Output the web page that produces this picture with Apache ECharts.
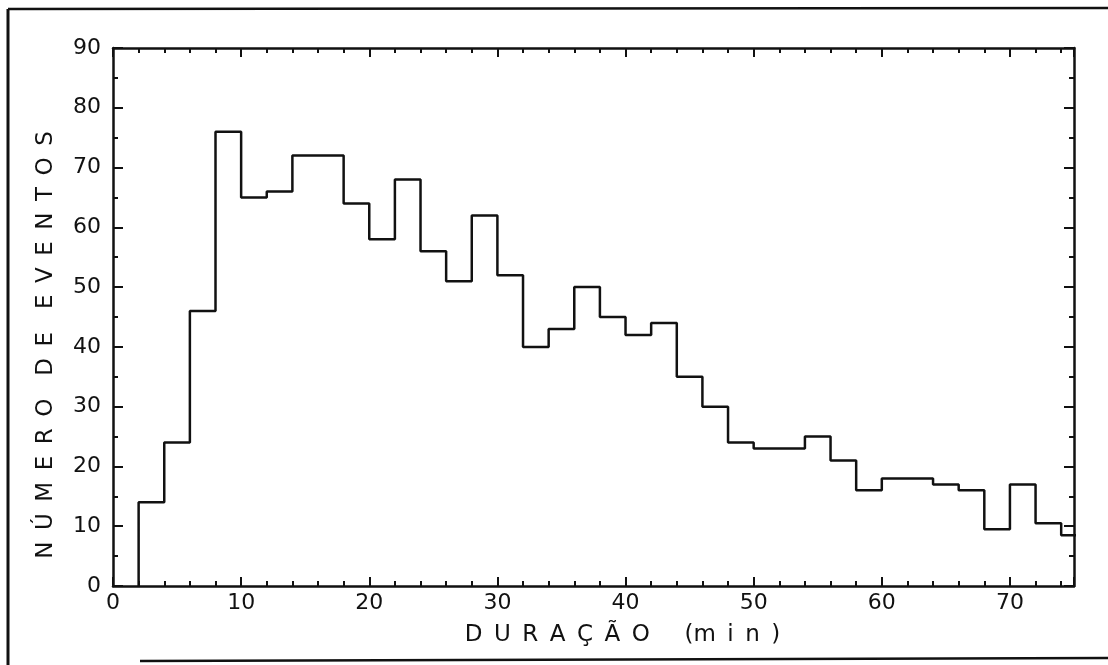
<!DOCTYPE html>
<html>
<head>
<meta charset="utf-8">
<script src="https://cdn.jsdelivr.net/npm/echarts@6/dist/echarts.min.js"></script>
<style>
  html, body { margin: 0; padding: 0; background: #fff; }
  #chart { width: 1108px; height: 665px; }
</style>
</head>
<body>
<div id="chart"></div>
<script>
// left edge of each 2-minute bin (min)
var binLeft = [2, 4, 6, 8, 10, 12, 14, 16, 18, 20, 22, 24, 26, 28, 30, 32, 34, 36, 38,
  40, 42, 44, 46, 48, 50, 52, 54, 56, 58, 60, 62, 64, 66, 68, 70, 72, 74];
var binRightEnd = 76;
// number of events per bin
var counts = [14, 24, 46, 76, 65, 66, 72, 72, 64, 58, 68, 56, 51, 62, 52, 40, 43, 50, 45,
  42, 44, 35, 30, 24, 23, 23, 25, 21, 16, 18, 18, 17, 16, 9.5, 17, 10.5, 8.5];

var xTicks = [0, 10, 20, 30, 40, 50, 60, 70];
var yTicks = [0, 10, 20, 30, 40, 50, 60, 70, 80, 90];

// step outline: start at the baseline, then each bin's top
var steps = [[binLeft[0], 0]];
for (var i = 0; i < binLeft.length; i++) {
  steps.push([binLeft[i], counts[i]]);
}
steps.push([binRightEnd, counts[counts.length - 1]]);

var ink = '#111';
var font = 'DejaVu Sans';
var sp = '\u2002';   // en space, spreads the axis titles like the original lettering

function spread(word) { return word.split('').join(sp); }

var yTitle = spread('NÚMERO') + sp + sp + spread('DE') + sp + sp + spread('EVENTOS');
var xTitle = spread('DURAÇÃO') + sp + sp + sp + '(' + spread('min') + sp + ')';

function xAx(pos, showLabels) {
  return {
    type: 'value',
    position: pos,
    min: xTicks[0],
    max: 75,
    interval: 10,
    axisLine: { show: true, onZero: false, lineStyle: { color: ink, width: 2.5 } },
    axisTick: { show: true, inside: true, length: 9, lineStyle: { color: ink, width: 2 } },
    minorTick: { show: true, splitNumber: 5, length: 5, lineStyle: { color: ink, width: 2 } },
    axisLabel: {
      show: showLabels, color: ink, fontFamily: font, fontSize: 22, margin: 6,
      showMaxLabel: false,
      formatter: function (v) { return xTicks.indexOf(v) >= 0 ? String(v) : ''; }
    },
    splitLine: { show: false },
    name: showLabels ? xTitle : '',
    nameLocation: 'middle',
    nameGap: 38,
    nameTextStyle: { color: ink, fontFamily: font, fontSize: 23, padding: [0, 0, 0, 58] }
  };
}

function yAx(pos, showLabels) {
  return {
    type: 'value',
    position: pos,
    min: yTicks[0],
    max: yTicks[yTicks.length - 1],
    interval: 10,
    axisLine: { show: true, onZero: false, lineStyle: { color: ink, width: 2.5 } },
    axisTick: { show: true, inside: true, length: 10, lineStyle: { color: ink, width: 2 } },
    minorTick: { show: true, splitNumber: 2, length: 5, lineStyle: { color: ink, width: 2 } },
    axisLabel: { show: showLabels, color: ink, fontFamily: font, fontSize: 22, margin: 12 },
    splitLine: { show: false }
  };
}

var myChart = echarts.init(document.getElementById('chart'));
myChart.setOption({
  animation: false,
  backgroundColor: '#fff',
  grid: { left: 113, right: 34, top: 48, bottom: 79, containLabel: false },
  xAxis: [xAx('bottom', true), xAx('top', false)],
  yAxis: [yAx('left', true), yAx('right', false)],
  graphic: [
    { type: 'line', shape: { x1: 8, y1: 9, x2: 8, y2: 665 }, style: { stroke: ink, lineWidth: 3 } },
    { type: 'line', shape: { x1: 8, y1: 9, x2: 1108, y2: 8 }, style: { stroke: ink, lineWidth: 2.5 } },
    { type: 'line', shape: { x1: 140, y1: 661, x2: 1108, y2: 658 }, style: { stroke: ink, lineWidth: 2.5 } },
    {
      type: 'text', x: 46, y: 345, rotation: Math.PI / 2,
      style: {
        text: yTitle, fill: ink, font: '23px "DejaVu Sans"',
        align: 'center', verticalAlign: 'middle'
      }
    }
  ],
  series: [
    {
      type: 'line',
      step: 'end',
      data: steps,
      symbol: 'none',
      clip: true,
      lineStyle: { color: ink, width: 2.5 }
    }
  ]
});
</script>
</body>
</html>
